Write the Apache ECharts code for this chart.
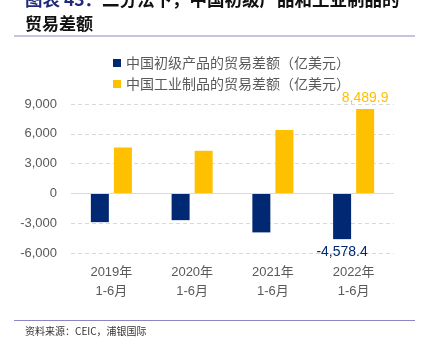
<!DOCTYPE html>
<html><head><meta charset="utf-8">
<script src="https://cdn.jsdelivr.net/npm/echarts@6/dist/echarts.min.js"></script>
<style>html,body{margin:0;padding:0;background:#fff}#c{width:423px;height:356px}</style>
</head><body><div id="c"></div>
<script>
const categories = ['2019年\n1-6月', '2020年\n1-6月', '2021年\n1-6月', '2022年\n1-6月'];
const primaryValues = [-2870, -2670, -3900, -4578.4];
const industrialValues = [4630, 4300, 6400, 8489.9];
const seriesNames = ['中国初级产品的贸易差额（亿美元）', '中国工业制品的贸易差额（亿美元）'];
const yTicks = [-6000, -3000, 0, 3000, 6000, 9000];

const NAVY = '#002873', GOLD = '#FFC000';
const FONT = "'Liberation Sans','Noto Sans CJK SC',sans-serif";
const CJK = "'Noto Sans CJK SC',sans-serif";
const chart = echarts.init(document.getElementById('c'), null, {renderer: 'canvas'});
const fmt = v => v.toLocaleString('en-US', {minimumFractionDigits: 1, maximumFractionDigits: 1});
const lastIdx = categories.length - 1;

chart.setOption({
  animation: false,
  textStyle: {fontFamily: FONT},
  graphic: [
    {type: 'text', left: 25, top: -9, style: {
      text: '{a|图表 43：}{b|二分法下，中国初级产品和工业制品的}',
      rich: {a: {fill: '#1F2A78', fontSize: 17.5, fontWeight: 'bold', fontFamily: CJK},
             b: {fill: '#111', fontSize: 17.5, fontWeight: 'bold', fontFamily: CJK}}}},
    {type: 'text', left: 25, top: 15, style: {text: '贸易差额', fill: '#111', fontSize: 17, fontWeight: 'bold', fontFamily: CJK}},
    {type: 'line', shape: {x1: 14, y1: 36, x2: 415, y2: 36}, style: {stroke: '#8a87c4', lineWidth: 1.2}},
    {type: 'line', shape: {x1: 14, y1: 320.5, x2: 415, y2: 320.5}, style: {stroke: '#8a87c4', lineWidth: 1.2}},
    {type: 'text', left: 25, top: 326, style: {text: '资料来源：CEIC，浦银国际', fill: '#333', fontSize: 10, fontFamily: CJK}}
  ],
  legend: {
    orient: 'vertical', left: 108, top: 51, itemWidth: 8, itemHeight: 8, itemGap: 7,
    icon: 'rect',
    textStyle: {color: '#595959', fontSize: 14, fontFamily: CJK},
    data: seriesNames
  },
  grid: {left: 71, right: 29, top: 104, bottom: 102.7},
  xAxis: {
    type: 'category', data: categories,
    axisLine: {show: false, onZero: false}, axisTick: {show: false},
    axisLabel: {color: '#595959', fontSize: 13, lineHeight: 19, margin: 10, fontFamily: FONT}
  },
  yAxis: {
    type: 'value', min: -6000, max: 9000, interval: 3000,
    axisLine: {show: false}, axisTick: {show: false},
    axisLabel: {color: '#595959', fontSize: 13, margin: 14, fontFamily: FONT,
      formatter: v => yTicks.includes(v) ? v.toLocaleString('en-US') : ''},
    splitLine: {lineStyle: {color: '#d9d9d9', type: [4, 3], width: 1}}
  },
  series: [
    {name: seriesNames[0], type: 'bar', data: primaryValues.map((v, i) => i === lastIdx ? {value: v, label: {show: true}} : v),
     barWidth: 18, barGap: '28%', itemStyle: {color: NAVY},
     label: {show: false, position: 'bottom', distance: 6, color: NAVY, fontSize: 14, formatter: p => fmt(p.value)},
     markLine: {silent: true, symbol: 'none', label: {show: false}, data: [{yAxis: 0}],
       lineStyle: {color: '#d9d9d9', type: 'solid', width: 1.2}}},
    {name: seriesNames[1], type: 'bar', data: industrialValues.map((v, i) => i === lastIdx ? {value: v, label: {show: true}} : v),
     barWidth: 18, itemStyle: {color: GOLD},
     label: {show: false, position: 'top', distance: 4, color: GOLD, fontSize: 14, formatter: p => fmt(p.value)}}
  ]
});
</script></body></html>
